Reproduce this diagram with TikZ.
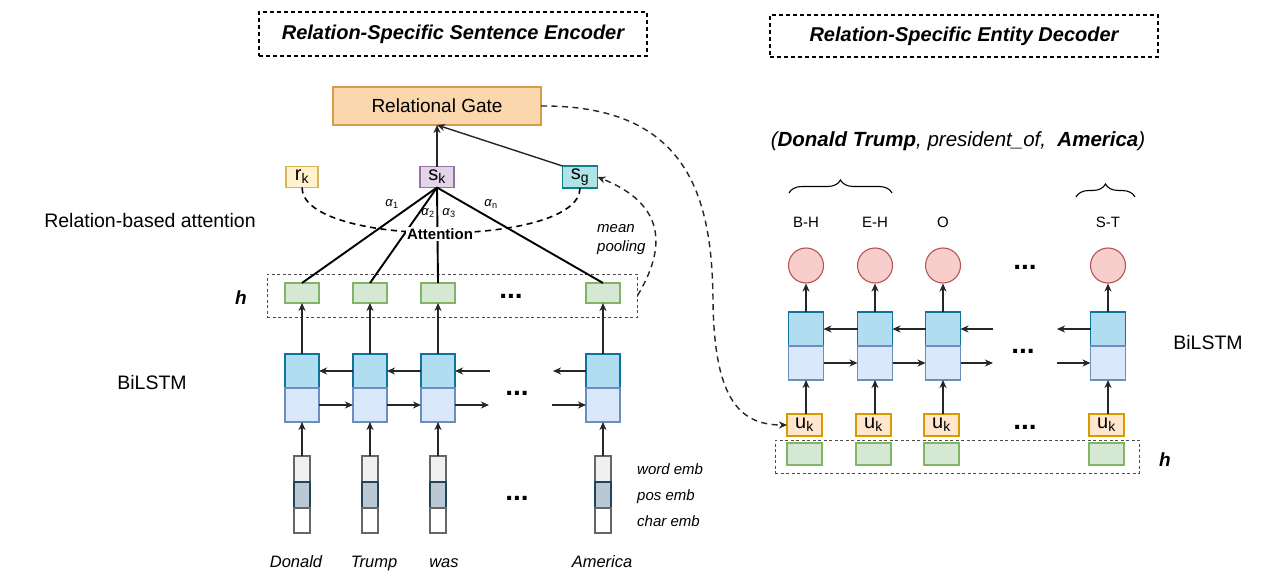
\documentclass[tikz,border=0pt]{standalone}
\usepackage{fontspec}
\setmainfont{Liberation Sans}
\usetikzlibrary{arrows.meta,decorations.pathreplacing}
\newcommand{\fz}[1]{\fontsize{#1}{#1}\selectfont}
\definecolor{gateF}{HTML}{FAD7AC}\definecolor{gateD}{HTML}{D89B4A}
\definecolor{rkF}{HTML}{FFF2CC}\definecolor{rkD}{HTML}{D6B656}
\definecolor{skF}{HTML}{E1D5E7}\definecolor{skD}{HTML}{9673A6}
\definecolor{sgF}{HTML}{B0E3E6}\definecolor{sgD}{HTML}{0E8088}
\definecolor{grF}{HTML}{D5E8D4}\definecolor{grD}{HTML}{82B366}
\definecolor{ltF}{HTML}{B1DDF0}\definecolor{ltD}{HTML}{10739E}
\definecolor{lbF}{HTML}{DAE8FC}\definecolor{lbD}{HTML}{6C8EBF}
\definecolor{ukF}{HTML}{FFE6CC}\definecolor{ukD}{HTML}{D79B00}
\definecolor{ciF}{HTML}{F8CECC}\definecolor{ciD}{HTML}{B85450}
\definecolor{emA}{HTML}{F0F0F0}\definecolor{emB}{HTML}{BAC8D3}\definecolor{emD}{HTML}{23445D}
\begin{document}
\begin{tikzpicture}[x=1pt,y=-1pt,
  bx/.style={draw, line width=1.1pt, inner sep=0pt, outer sep=0pt},
  gatebox/.style={bx, fill=gateF, draw=gateD, minimum width=208, minimum height=38, font=\fz{19}},
  vecbox/.style={bx, minimum width=34, minimum height=21, font=\fz{20}},
  green/.style={bx, fill=grF, draw=grD, minimum width=34, minimum height=20},
  ltop/.style={bx, fill=ltF, draw=ltD, minimum width=34, minimum height=34},
  lbot/.style={bx, fill=lbF, draw=lbD, minimum width=34, minimum height=34},
  ukbox/.style={bx, fill=ukF, draw=ukD, minimum width=35, minimum height=22, font=\fz{20}},
  outc/.style={circle, draw=ciD, fill=ciF, line width=1.1pt, minimum size=35, inner sep=0pt},
  emba/.style={bx, draw=black!60, fill=emA, minimum width=16, minimum height=26},
  embb/.style={bx, draw=emD, fill=emB, minimum width=16, minimum height=26},
  embc/.style={bx, draw=black!60, fill=white, minimum width=16, minimum height=25},
  arr/.style={-{Stealth[length=8pt,width=7pt,inset=2.5pt]}, line width=1.4pt, draw=black!85},
  att/.style={line width=1.9pt},
  dsh/.style={line width=1.6pt, dash pattern=on 6pt off 4.5pt},
  hbox/.style={draw=black!70, line width=1pt, dash pattern=on 3pt off 2.5pt, inner sep=0pt},
  titlebox/.style={draw, line width=1.5pt, dash pattern=on 4pt off 3pt, inner sep=0pt, font=\fz{20}\bfseries\itshape},
  dots/.style={font=\fz{28}\bfseries, inner sep=0pt},
  lbl/.style={inner sep=0pt}
]
\useasboundingbox (0,0) rectangle (1273,578);
\fill[white] (0,0) rectangle (1273,578);

% titles
\node[titlebox, minimum width=388, minimum height=44] (t1) at (453,34) {Relation-Specific Sentence Encoder};
\node[titlebox, minimum width=388, minimum height=42] (t2) at (964,36) {Relation-Specific Entity Decoder};

% ===== encoder =====
\node[gatebox] (gate) at (437,106) {Relational Gate};
\node[vecbox, fill=rkF, draw=rkD, minimum width=32] (rk) at (302,177) {r\textsubscript{k}};
\node[vecbox, fill=skF, draw=skD] (sk) at (437,177) {s\textsubscript{k}};
\node[vecbox, fill=sgF, draw=sgD, minimum width=35, minimum height=22] (sg) at (580,177) {s\textsubscript{g}};

\node[lbl, font=\fz{19.5}] (rba) at (150,221) {Relation-based attention};
\node[lbl, font=\fz{19.5}] (bil1) at (152,383) {BiLSTM};
\node[lbl, font=\fz{19}\bfseries\itshape] (hl1) at (241,298) {h};

% h row
\node[hbox, minimum width=370, minimum height=43] (hb1) at (452,295.5) {};
\node[green] (h1) at (302,293) {};
\node[green] (h2) at (370,293) {};
\node[green] (h3) at (438,293) {};
\node[green] (hn) at (603,293) {};
\node[dots] (d1) at (511,296) {...};

% LSTM cells
\foreach \n/\x in {1/302,2/370,3/438,n/603}{
  \node[ltop] (c\n t) at (\x,371) {};
  \node[lbot] (c\n b) at (\x,405) {};
  \node[emba] (e\n a) at (\x,469) {};
  \node[embb] (e\n b) at (\x,495) {};
  \node[embc] (e\n c) at (\x,520.5) {};
}
\node[dots] (d2) at (517,393) {...};
\node[dots] (d3) at (517,498) {...};
\coordinate (lb1) at (490,371);
\coordinate (lb2) at (553,371);
\coordinate (lf1) at (489,405);
\coordinate (lf2) at (552,405);

% words
\node[lbl, font=\fz{16.5}\itshape, anchor=base] (w1) at (296,567) {Donald};
\node[lbl, font=\fz{16.5}\itshape, anchor=base] (w2) at (374,567) {Trump};
\node[lbl, font=\fz{16.5}\itshape, anchor=base] (w3) at (444,567) {was};
\node[lbl, font=\fz{16.5}\itshape, anchor=base] (w4) at (602,567) {America};
\node[lbl, font=\fz{15}\itshape, anchor=base west] (we) at (637,474) {word emb};
\node[lbl, font=\fz{15}\itshape, anchor=base west] (pe) at (637,500) {pos emb};
\node[lbl, font=\fz{15}\itshape, anchor=base west] (ce) at (637,526) {char emb};
\node[lbl, font=\fz{15}\itshape, anchor=base west] (mp1) at (597,232) {mean};
\node[lbl, font=\fz{15}\itshape, anchor=base west] (mp2) at (597,251) {pooling};

% connectors (encoder)
\draw[arr] (sk.north) -- (gate.south);
\draw[arr] (sg.north west) -- (gate.south);
\draw[att] (sk.south) -- (h1.north);
\draw[att] (sk.south) -- (h2.north);
\draw[att] (sk.south) -- (h3.north);
\draw[att] (sk.south) -- (hn.north);
\draw[dsh] (rk.south) .. controls (302,248) and (580,248) .. (sg.south);
\node[fill=white, inner sep=1pt, font=\fz{15}\bfseries] (attn) at (440,234) {Attention};
\node[lbl, font=\fz{13}] (a1) at (392,204) {\textit{α}\textsubscript{1}};
\node[lbl, font=\fz{13}] (a2) at (428,213) {\textit{α}\textsubscript{2}};
\node[lbl, font=\fz{13}] (a3) at (449,213) {\textit{α}\textsubscript{3}};
\node[lbl, font=\fz{13}] (an) at (491,204) {\textit{α}\textsubscript{n}};
\draw[dsh, arr] (hb1.east) .. controls (665,250) and (668,205) .. (sg.east);

\foreach \n in {1,2,3,n}{
  \draw[arr] (c\n t.north) -- (h\n.south);
  \draw[arr] (e\n a.north) -- (c\n b.south);
}
\draw[arr] (c2t.west) -- (c1t.east);
\draw[arr] (c3t.west) -- (c2t.east);
\draw[arr] (lb1) -- (c3t.east);
\draw[arr] (cnt.west) -- (lb2);
\draw[arr] (c1b.east) -- (c2b.west);
\draw[arr] (c2b.east) -- (c3b.west);
\draw[arr] (c3b.east) -- (lf1);
\draw[arr] (lf2) -- (cnb.west);

% ===== decoder =====
\node[lbl, font=\fz{20.5}\itshape] (tuple) at (958,141) {(\textbf{Donald Trump}, president\_of,~ \textbf{America})};
\draw[line width=1.1pt, decorate, decoration={brace, amplitude=13pt}] (789,193) -- (892,193);
\draw[line width=1.1pt, decorate, decoration={brace, amplitude=13pt}] (1076,197) -- (1135,197);

\foreach \n/\x/\t in {1/806/B-H,2/875/E-H,3/943/O,4/1108/S-T}{
  \node[lbl, font=\fz{15}] (tg\n) at (\x,222) {\t};
  \node[outc] (o\n) at (\x,265.5) {};
  \node[ltop, minimum width=35] (r\n t) at (\x,329) {};
  \node[lbot, minimum width=35] (r\n b) at (\x,363) {};
  \node[ukbox] (u\n) at (\x-1.5,425) {u\textsubscript{k}};
  \node[green, minimum width=35, minimum height=22] (g\n) at (\x-1.5,454) {};
  \draw[arr] (r\n t.north) -- (o\n.south);
  \draw[arr] (u\n.north -| r\n b.south) -- (r\n b.south);
}
\node[hbox, minimum width=364, minimum height=33] (hb2) at (957,456.5) {};
\node[lbl, font=\fz{19}\bfseries\itshape] (hl2) at (1165,460) {h};
\node[lbl, font=\fz{19.5}] (bil2) at (1208,343) {BiLSTM};
\node[dots] (d4) at (1025,267) {...};
\node[dots] (d5) at (1023,351) {...};
\node[dots] (d6) at (1025,427) {...};
\coordinate (rb1) at (993,329);
\coordinate (rb2) at (1057,329);
\coordinate (rf1) at (993,363);
\coordinate (rf2) at (1057,363);
\draw[arr] (r2t.west) -- (r1t.east);
\draw[arr] (r3t.west) -- (r2t.east);
\draw[arr] (rb1) -- (r3t.east);
\draw[arr] (r4t.west) -- (rb2);
\draw[arr] (r1b.east) -- (r2b.west);
\draw[arr] (r2b.east) -- (r3b.west);
\draw[arr] (r3b.east) -- (rf1);
\draw[arr] (rf2) -- (r4b.west);

% gate to decoder
\draw[dsh, arr] (gate.east) .. controls (690,105) and (712,200) .. (713,300) .. controls (714,400) and (740,425) .. (u1.west);
\end{tikzpicture}
\end{document}
